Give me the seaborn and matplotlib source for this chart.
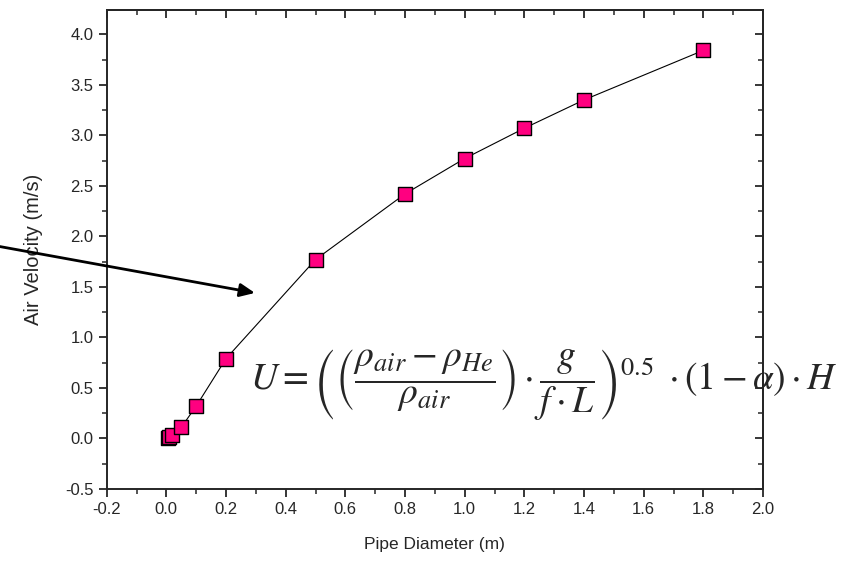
import matplotlib
matplotlib.use("Agg")
import matplotlib.pyplot as plt
from matplotlib.ticker import MultipleLocator, NullFormatter
import seaborn as sns
import pandas as pd

# pipe diameter (m) vs air velocity (m/s)
diameter = [0.005, 0.01, 0.02, 0.05, 0.1, 0.2, 0.5, 0.8, 1.0, 1.2, 1.4, 1.8]
velocity = [0.005, 0.015, 0.03, 0.11, 0.32, 0.79, 1.77, 2.42, 2.77, 3.07, 3.35, 3.84]
xticks = [-0.2, 0.0, 0.2, 0.4, 0.6, 0.8, 1.0, 1.2, 1.4, 1.6, 1.8, 2.0]
yticks = [-0.5, 0.0, 0.5, 1.0, 1.5, 2.0, 2.5, 3.0, 3.5, 4.0]

df = pd.DataFrame({"Pipe Diameter (m)": diameter, "Air Velocity (m/s)": velocity})

sns.set_style("ticks")
plt.rcParams["font.family"] = ["Liberation Sans", "DejaVu Sans"]
plt.rcParams["mathtext.fontset"] = "stix"

fig = plt.figure(figsize=(8.46, 5.64), dpi=100)
ax = fig.add_axes([0.1261, 0.1330, 0.7758, 0.8493])

sns.lineplot(data=df, x="Pipe Diameter (m)", y="Air Velocity (m/s)",
             color="black", linewidth=0.8, ax=ax, zorder=2)
sns.scatterplot(data=df, x="Pipe Diameter (m)", y="Air Velocity (m/s)",
                marker="s", s=95, color="#ff0080", edgecolor="black",
                linewidth=1.0, ax=ax, zorder=3)

ax.set_xlim(-0.2, 2.0)
ax.set_ylim(-0.5, 4.24)
ax.set_xticks(xticks)
ax.set_xticklabels([f"{t:.1f}" for t in xticks])
ax.set_yticks(yticks)
ax.set_yticklabels([f"{t:.1f}" for t in yticks])
ax.xaxis.set_minor_locator(MultipleLocator(0.1))
ax.yaxis.set_minor_locator(MultipleLocator(0.25))

for s in ax.spines.values():
    s.set_visible(True)
    s.set_linewidth(1.4)
ax.tick_params(which="major", direction="out", length=6, width=1.3, labelsize=12)
ax.tick_params(which="minor", direction="out", length=3.5, width=1.1)

top = ax.secondary_xaxis("top")
top.xaxis.set_major_locator(MultipleLocator(0.2))
top.xaxis.set_minor_locator(MultipleLocator(0.1))
top.xaxis.set_major_formatter(NullFormatter())
top.tick_params(which="major", direction="in", length=6, width=1.3)
top.tick_params(which="minor", direction="in", length=3.5, width=1.1)
top.spines["top"].set_linewidth(1.4)

right = ax.secondary_yaxis("right")
right.yaxis.set_major_locator(MultipleLocator(0.5))
right.yaxis.set_minor_locator(MultipleLocator(0.25))
right.yaxis.set_major_formatter(NullFormatter())
right.tick_params(which="major", direction="in", length=6, width=1.3)
right.tick_params(which="minor", direction="in", length=3.5, width=1.1)
right.spines["right"].set_linewidth(1.4)

ax.set_xlabel("Pipe Diameter (m)", fontsize=12.5, labelpad=14)
ax.set_ylabel("Air Velocity (m/s)", fontsize=14.5, labelpad=16)

ax.annotate("", xy=(0.297, 1.44), xytext=(-0.56, 1.90),
            annotation_clip=False,
            arrowprops=dict(arrowstyle="-|>,head_length=0.9,head_width=0.4",
                            color="black", lw=2.0, shrinkA=0, shrinkB=0))

eq = (r"$U=\left(\left(\dfrac{\rho_{air}-\rho_{He}}{\rho_{air}}\right)\cdot"
      r"\dfrac{g}{f\cdot L}\right)^{0.5}\;\cdot(1-\alpha)\cdot H$")
ax.text(0.28, 0.53, eq, fontsize=27, ha="left", va="center", zorder=5,
        clip_on=False)

fig.savefig("out.png", dpi=100)
